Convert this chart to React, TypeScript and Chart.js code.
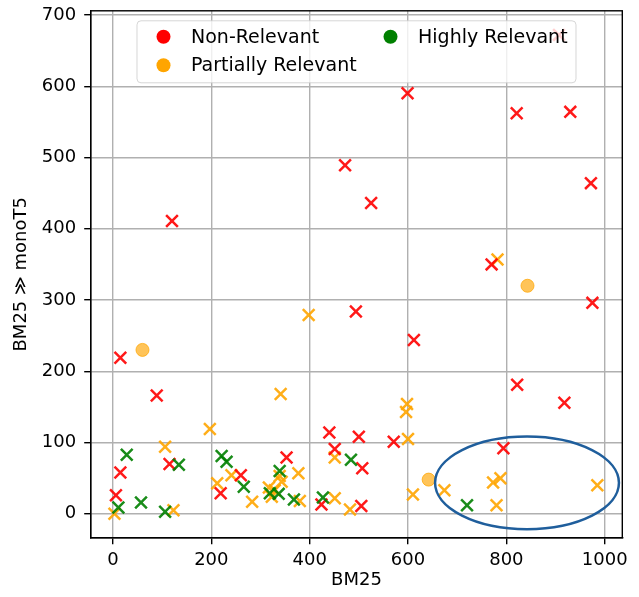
import React, { useEffect, useRef } from "react";
import { Chart, registerables } from "chart.js";

Chart.register(...registerables);

// ---- data (BM25 rank, BM25 >> monoT5 rank) ----
const nonRelevant: [number, number][] = [
  [89, 166], [115, 70], [15, 58], [6, 26], [260, 54], [219, 29], [440, 114],
  [500, 108], [571, 101], [451, 91], [507, 64], [353, 79], [424, 13], [505, 11],
  [822, 181], [918, 156], [794, 92], [120, 411], [15, 219], [525, 436],
  [972, 464], [770, 350], [975, 296], [494, 284], [612, 244], [599, 590],
  [821, 562], [930, 564], [472, 489], [907, 672],
];
const partiallyRelevant: [number, number][] = [
  [197, 119], [106, 94], [3, 0], [123, 5], [241, 54], [212, 43], [283, 17],
  [341, 168], [598, 154], [596, 143], [600, 105], [451, 79], [339, 53],
  [343, 45], [317, 37], [329, 33], [323, 24], [377, 57], [380, 18], [451, 22],
  [482, 6], [610, 27], [788, 50], [773, 44], [674, 33], [780, 12], [985, 40],
  [398, 279], [782, 357],
];
const highlyRelevant: [number, number][] = [
  [28, 83], [134, 69], [11, 9], [57, 16], [106, 3], [221, 81], [231, 73],
  [266, 38], [339, 60], [319, 29], [337, 28], [368, 20], [427, 23], [484, 76],
  [720, 12],
];
const partiallyRelevantCircles: [number, number][] = [
  [60, 230], [843, 320], [642, 48],
];

const legendLabels = ["Non-Relevant", "Partially Relevant", "Highly Relevant"];
const legendColors = ["#ff0000", "#ffa500", "#008000"];

const xTicks = [0, 200, 400, 600, 800, 1000];
const yTicks = [0, 100, 200, 300, 400, 500, 600, 700];
const xRange = [-45.3, 1035.8];
const yRange = [-33.5, 705.8];

const ellipseCenter = [842, 43.5];
const ellipseRadii = [187, 65];

const FONT = "DejaVu Sans";

const toPts = (arr: [number, number][]) => arr.map(([x, y]) => ({ x, y }));

const overlayPlugin = {
  id: "overlay",
  afterDatasetsDraw(chart: any) {
    const { ctx, chartArea: a, scales } = chart;
    const xs = scales.x;
    const ys = scales.y;
    ctx.save();
    // ellipse annotation
    const cx = xs.getPixelForValue(ellipseCenter[0]);
    const cy = ys.getPixelForValue(ellipseCenter[1]);
    const rx = Math.abs(xs.getPixelForValue(ellipseCenter[0] + ellipseRadii[0]) - cx);
    const ry = Math.abs(ys.getPixelForValue(ellipseCenter[1] + ellipseRadii[1]) - cy);
    ctx.beginPath();
    ctx.ellipse(cx, cy, rx, ry, 0, 0, Math.PI * 2);
    ctx.strokeStyle = "#1f5e9c";
    ctx.lineWidth = 2.5;
    ctx.stroke();

    // frame
    ctx.strokeStyle = "#000";
    ctx.lineWidth = 1.4;
    ctx.strokeRect(a.left, a.top, a.right - a.left, a.bottom - a.top);

    // legend
    const boxW = 439;
    const boxH = 62;
    const left = (a.left + a.right) / 2 - boxW / 2;
    const top = a.top + 10;
    const r = 4;
    ctx.beginPath();
    ctx.moveTo(left + r, top);
    ctx.lineTo(left + boxW - r, top);
    ctx.arcTo(left + boxW, top, left + boxW, top + r, r);
    ctx.lineTo(left + boxW, top + boxH - r);
    ctx.arcTo(left + boxW, top + boxH, left + boxW - r, top + boxH, r);
    ctx.lineTo(left + r, top + boxH);
    ctx.arcTo(left, top + boxH, left, top + boxH - r, r);
    ctx.lineTo(left, top + r);
    ctx.arcTo(left, top, left + r, top, r);
    ctx.closePath();
    ctx.fillStyle = "rgba(255,255,255,0.8)";
    ctx.fill();
    ctx.strokeStyle = "rgba(204,204,204,0.8)";
    ctx.lineWidth = 1;
    ctx.stroke();

    const positions = [
      [left + 26.5, top + 16],
      [left + 26.5, top + 44.5],
      [left + 253.5, top + 16],
    ];
    ctx.font = `19px "${FONT}"`;
    ctx.textBaseline = "middle";
    ctx.textAlign = "left";
    legendLabels.forEach((label, i) => {
      const [mx, my] = positions[i];
      ctx.beginPath();
      ctx.arc(mx, my, 7, 0, Math.PI * 2);
      ctx.fillStyle = legendColors[i];
      ctx.fill();
      ctx.fillStyle = "#000";
      ctx.fillText(label, mx + 27.5, my + 1);
    });
    ctx.restore();
  },
};

export default function App() {
  const ref = useRef<HTMLCanvasElement | null>(null);

  useEffect(() => {
    if (!ref.current) return;
    Chart.defaults.font.family = FONT;
    Chart.defaults.font.size = 18;
    Chart.defaults.color = "#000";

    const cross = (color: string, data: [number, number][], label: string, order: number) => ({
      label,
      data: toPts(data),
      pointStyle: "crossRot",
      pointRadius: 8.3,
      pointBorderWidth: 2.5,
      borderColor: color,
      backgroundColor: color,
      showLine: false,
      order,
    });

    const chart = new Chart(ref.current, {
      type: "scatter",
      data: {
        datasets: [
          cross("rgba(255,0,0,0.9)", nonRelevant, legendLabels[0], 2),
          cross("rgba(255,165,0,0.9)", partiallyRelevant, legendLabels[1], 3),
          cross("rgba(0,128,0,0.9)", highlyRelevant, legendLabels[2], 1),
          {
            label: "Partially Relevant (circle)",
            data: toPts(partiallyRelevantCircles),
            pointStyle: "circle",
            pointRadius: 6.5,
            pointBorderWidth: 1,
            borderColor: "rgba(255,165,0,0.75)",
            backgroundColor: "rgba(255,165,0,0.65)",
            showLine: false,
            order: 0,
          } as any,
        ] as any,
      },
      options: {
        responsive: false,
        animation: false,
        devicePixelRatio: 1,
        events: [],
        layout: { padding: { top: 10.3, right: 16.7, left: 0, bottom: 0 } },
        plugins: {
          legend: { display: false },
          tooltip: { enabled: false },
        },
        scales: {
          x: {
            type: "linear",
            min: xRange[0],
            max: xRange[1],
            afterBuildTicks: (s: any) => {
              s.ticks = xTicks.map((v) => ({ value: v }));
            },
            afterFit: (s: any) => {
              s.height = 59.3;
              s.paddingLeft = 0;
              s.paddingRight = 0;
            },
            ticks: {
              padding: 5,
              maxRotation: 0,
              autoSkip: false,
              color: "#000",
              font: { size: 18, family: FONT },
              callback: (v: any) => String(v),
            },
            grid: {
              color: "#b0b0b0",
              lineWidth: 1.4,
              drawTicks: true,
              tickLength: 6.5,
              tickColor: "#000",
              tickWidth: 1.4,
            },
            border: { display: true, color: "#000", width: 1.4 },
            title: {
              display: true,
              text: "BM25",
              color: "#000",
              font: { size: 18, family: FONT },
              padding: { top: 0, bottom: 6 },
            },
          },
          y: {
            type: "linear",
            min: yRange[0],
            max: yRange[1],
            afterBuildTicks: (s: any) => {
              s.ticks = yTicks.map((v) => ({ value: v }));
            },
            afterFit: (s: any) => {
              s.width = 90.7;
              s.paddingTop = 0;
              s.paddingBottom = 0;
            },
            ticks: {
              padding: 8,
              autoSkip: false,
              color: "#000",
              font: { size: 18, family: FONT },
              callback: (v: any) => String(v),
            },
            grid: {
              color: "#b0b0b0",
              lineWidth: 1.4,
              drawTicks: true,
              tickLength: 6.5,
              tickColor: "#000",
              tickWidth: 1.4,
            },
            border: { display: true, color: "#000", width: 1.4 },
            title: {
              display: true,
              text: "BM25 \u226B monoT5",
              color: "#000",
              font: { size: 18, family: FONT },
              padding: { top: 11, bottom: 0 },
            },
          },
        },
      } as any,
      plugins: [overlayPlugin],
    });
    return () => chart.destroy();
  }, []);

  return (
    <div style={{ position: "absolute", left: 0, top: 0, width: 639, height: 597 }}>
      <canvas ref={ref} width={639} height={597} style={{ width: 639, height: 597 }} />
    </div>
  );
}
